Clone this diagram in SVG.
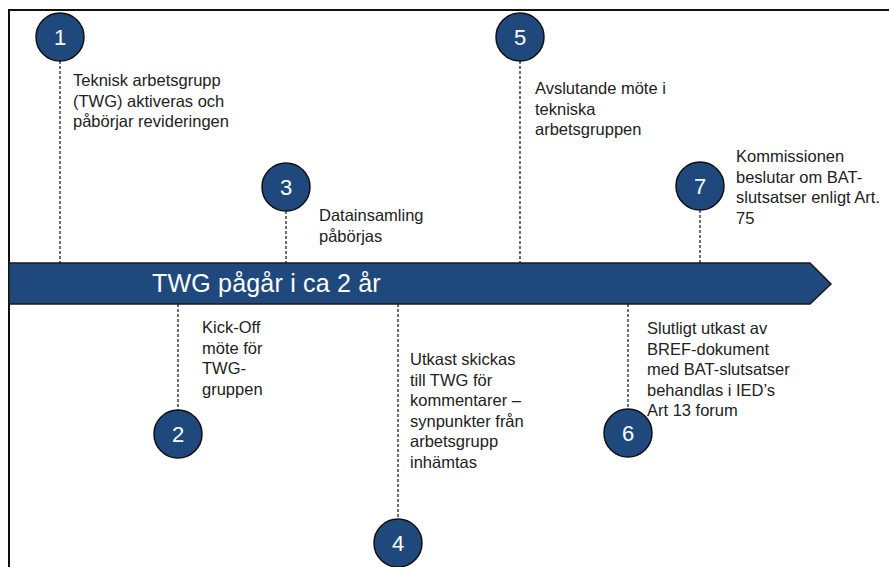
<svg xmlns="http://www.w3.org/2000/svg" width="889" height="567" viewBox="0 0 889 567">
<style>
.frame{stroke:#111;stroke-width:2;fill:none}
.bar{fill:#1F497D;stroke:#1a1a1a;stroke-width:1.5}
.dash{stroke:#222;stroke-width:1.3;stroke-dasharray:3,2;fill:none}
.c{fill:#1F497D;stroke:#111;stroke-width:1.5}
.n{font-family:"Liberation Sans",Arial,sans-serif;font-size:22px;fill:#fff;text-anchor:middle}
.t{font-family:"Liberation Sans",Arial,sans-serif;font-size:16.5px;fill:#222}
.bt{font-family:"Liberation Sans",Arial,sans-serif;font-size:25px;fill:#fff;letter-spacing:0.2px}
</style>
<rect width="889" height="567" fill="#fff"/>
<path class="frame" d="M9,567 V10 H889"/>
<g id="connectors">
<line class="dash" x1="60" y1="61" x2="60" y2="263"/>
<line class="dash" x1="178" y1="304" x2="178" y2="410"/>
<line class="dash" x1="286" y1="211" x2="286" y2="263"/>
<line class="dash" x1="398" y1="304" x2="398" y2="519"/>
<line class="dash" x1="520" y1="61" x2="520" y2="263"/>
<line class="dash" x1="628" y1="304" x2="628" y2="409"/>
<line class="dash" x1="700" y1="210" x2="700" y2="263"/>
</g>
<g id="timeline">
<path class="bar" d="M9,263 H810 L831,284 L810,304 H9 Z"/>
<text class="bt" x="152" y="292">TWG pågår i ca 2 år</text>
</g>
<g id="node1">
<circle class="c" cx="60" cy="37" r="24"/>
<text class="n" x="60" y="45">1</text>
<text class="t" x="73"><tspan x="73" y="86">Teknisk arbetsgrupp</tspan><tspan x="73" y="106.5">(TWG) aktiveras och</tspan><tspan x="73" y="127">påbörjar revideringen</tspan></text>
</g>
<g id="node2">
<circle class="c" cx="178" cy="434" r="24"/>
<text class="n" x="178" y="442">2</text>
<text class="t"><tspan x="202" y="333">Kick-Off</tspan><tspan x="202" y="353.5">möte för</tspan><tspan x="202" y="374">TWG-</tspan><tspan x="202" y="394.5">gruppen</tspan></text>
</g>
<g id="node3">
<circle class="c" cx="286" cy="187" r="24"/>
<text class="n" x="286" y="195">3</text>
<text class="t"><tspan x="319" y="221">Datainsamling</tspan><tspan x="319" y="241.5">påbörjas</tspan></text>
</g>
<g id="node4">
<circle class="c" cx="398" cy="543" r="24"/>
<text class="n" x="398" y="551">4</text>
<text class="t"><tspan x="410" y="365">Utkast skickas</tspan><tspan x="410" y="385.5">till TWG för</tspan><tspan x="410" y="406">kommentarer –</tspan><tspan x="410" y="426.5">synpunkter från</tspan><tspan x="410" y="447">arbetsgrupp</tspan><tspan x="410" y="467.5">inhämtas</tspan></text>
</g>
<g id="node5">
<circle class="c" cx="520" cy="37" r="24"/>
<text class="n" x="520" y="45">5</text>
<text class="t"><tspan x="535" y="94">Avslutande möte i</tspan><tspan x="535" y="114.5">tekniska</tspan><tspan x="535" y="135">arbetsgruppen</tspan></text>
</g>
<g id="node6">
<circle class="c" cx="628" cy="433" r="24"/>
<text class="n" x="628" y="441">6</text>
<text class="t"><tspan x="647" y="334">Slutligt utkast av</tspan><tspan x="647" y="354.5">BREF-dokument</tspan><tspan x="647" y="375">med BAT-slutsatser</tspan><tspan x="647" y="395.5">behandlas i IED’s</tspan><tspan x="647" y="416">Art 13 forum</tspan></text>
</g>
<g id="node7">
<circle class="c" cx="700" cy="186" r="24"/>
<text class="n" x="700" y="194">7</text>
<text class="t"><tspan x="736" y="162">Kommissionen</tspan><tspan x="736" y="182.5">beslutar om BAT-</tspan><tspan x="736" y="203">slutsatser enligt Art.</tspan><tspan x="736" y="223.5">75</tspan></text>
</g>
</svg>
